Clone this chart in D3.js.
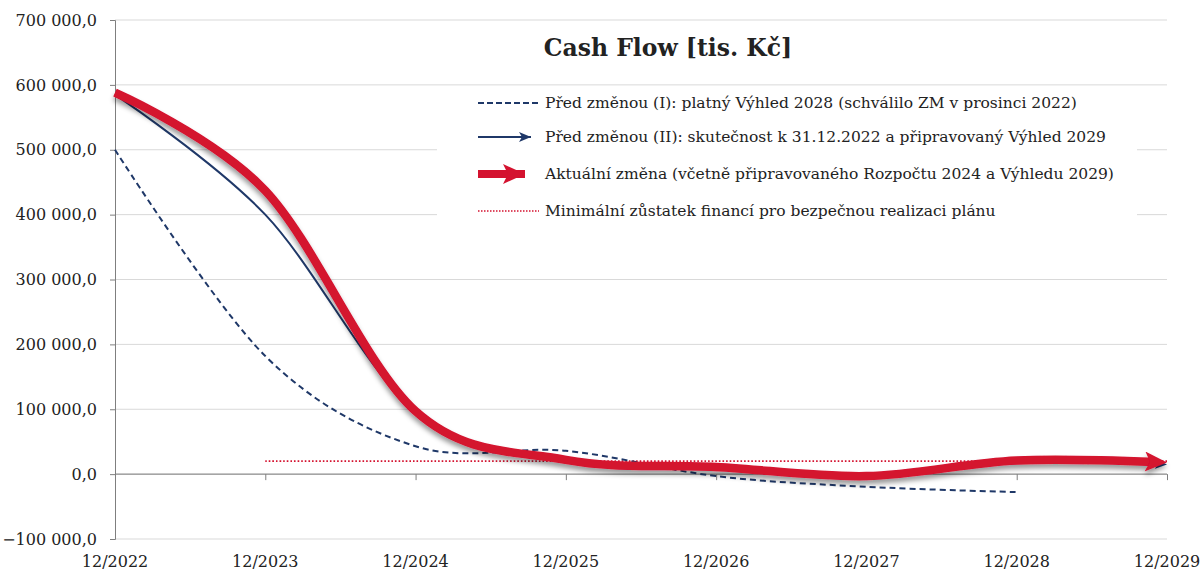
<!DOCTYPE html>
<meta charset="utf-8">
<script src="https://d3js.org/d3.v7.min.js"></script>
<style>
  body { margin: 0; background: #fff; }
  text { font-family: "DejaVu Serif", Georgia, serif; fill: #222; }
</style>
<div id="chart"></div>
<script>

// data (tis. Kč)
var periods = ["12/2022", "12/2023", "12/2024", "12/2025", "12/2026", "12/2027", "12/2028", "12/2029"];
var beforeI  = [500000, 182000, 43000, 36000, -3000, -19500, -27700];
var beforeII = [585000, 400000, 97000, 20000, 10000, -4000, 19000, 15000];
var current  = [588000, 437000, 97000, 22000, 11000, -3000, 21000, 18000];
var minBalance = [null, 20000, 20000, 20000, 20000, 20000, 20000, 20000];
var yTicks = [-100000, 0, 100000, 200000, 300000, 400000, 500000, 600000, 700000];
var legendLabels = [
  "Před změnou (I): platný Výhled 2028 (schválilo ZM v prosinci 2022)",
  "Před změnou (II): skutečnost k 31.12.2022 a připravovaný Výhled 2029",
  "Aktuální změna (včetně připravovaného Rozpočtu 2024 a Výhledu 2029)",
  "Minimální zůstatek financí pro bezpečnou realizaci plánu"
];

var W = 1204, H = 572;
var margin = {top: 20, right: 37, bottom: 33, left: 115};
var width = W - margin.left - margin.right,
    height = H - margin.top - margin.bottom;

var navy = "#1f3868", red = "#d4122f";

var svg = d3.select("#chart").append("svg")
    .attr("width", W).attr("height", H);

var defs = svg.append("defs");
var shadow = defs.append("filter").attr("id", "shadow")
    .attr("x", "-5%").attr("y", "-10%").attr("width", "110%").attr("height", "130%");
shadow.append("feDropShadow").attr("dx", 0).attr("dy", 4)
    .attr("stdDeviation", 2.4).attr("flood-color", "#000").attr("flood-opacity", 0.4);

defs.append("marker").attr("id", "arrowRed")
    .attr("markerUnits", "userSpaceOnUse")
    .attr("viewBox", "0 0 22 20").attr("refX", 22).attr("refY", 10)
    .attr("markerWidth", 22).attr("markerHeight", 20).attr("orient", "auto")
  .append("path").attr("d", "M0,0 L22,10 L0,20 L5,10 Z").attr("fill", red);

defs.append("marker").attr("id", "arrowNavy")
    .attr("markerUnits", "userSpaceOnUse")
    .attr("viewBox", "0 0 12 10").attr("refX", 12).attr("refY", 5)
    .attr("markerWidth", 12).attr("markerHeight", 10).attr("orient", "auto")
  .append("path").attr("d", "M0,0 L12,5 L0,10 L3,5 Z").attr("fill", navy);

var g = svg.append("g").attr("transform", "translate(" + margin.left + "," + margin.top + ")");

var x = d3.scalePoint().domain(periods).range([0, width]);
var y = d3.scaleLinear().domain([-100000, 700000]).range([height, 0]);

var fmt = function(v) {
  return d3.format(",.1f")(v).replace(/,/g, " ").replace(".", ",");
};

// gridlines
g.append("g").selectAll("line").data(yTicks).enter().append("line")
    .attr("x1", 0).attr("x2", width)
    .attr("y1", function(d) { return y(d); }).attr("y2", function(d) { return y(d); })
    .attr("stroke", "#d9d9d9").attr("stroke-width", 1);

// y axis
var yAxis = g.append("g")
    .call(d3.axisLeft(y).tickValues(yTicks).tickFormat(fmt).tickSize(5).tickPadding(13));
yAxis.select(".domain").attr("stroke", "#7f7f7f");
yAxis.selectAll(".tick line").attr("stroke", "#7f7f7f");
yAxis.selectAll("text").style("font-size", "16px").attr("fill", "#222");

// x axis line at zero with ticks
var xAxis = g.append("g").attr("transform", "translate(0," + y(0) + ")")
    .call(d3.axisBottom(x).tickSize(6).tickFormat(""));
xAxis.select(".domain").attr("stroke", "#7f7f7f").attr("d", "M0,0H" + width);
xAxis.selectAll(".tick line").attr("stroke", "#7f7f7f");

// x labels at bottom
g.append("g").selectAll("text").data(periods).enter().append("text")
    .attr("x", function(d) { return x(d); })
    .attr("y", height + 28)
    .attr("text-anchor", "middle")
    .style("font-size", "16px")
    .text(function(d) { return d; });

// legend background hides gridlines
g.append("rect").attr("x", 322).attr("y", 68).attr("width", 700).attr("height", 140).attr("fill", "#fff");

var line = d3.line()
    .defined(function(d) { return d != null; })
    .x(function(d, i) { return x(periods[i]); })
    .y(function(d) { return y(d); })
    .curve(d3.curveCardinal.tension(0));

// minimum balance
g.append("path").attr("d", line(minBalance))
    .attr("fill", "none").attr("stroke", red).attr("stroke-width", 1.6)
    .attr("stroke-dasharray", "1.6 2");

// before change I (dashed)
g.append("path").attr("d", line(beforeI))
    .attr("fill", "none").attr("stroke", navy).attr("stroke-width", 2)
    .attr("stroke-dasharray", "6 4");

// before change II
var p2 = g.append("path").attr("d", line(beforeII))
    .attr("fill", "none").attr("stroke", navy).attr("stroke-width", 2)
    .attr("marker-end", "url(#arrowNavy)");
var L2 = p2.node().getTotalLength();
p2.attr("stroke-dasharray", (L2 - 6) + " 100");

// current change (thick red with shadow)
var cg = g.append("g").attr("filter", "url(#shadow)");
var p3 = cg.append("path").attr("d", line(current))
    .attr("fill", "none").attr("stroke", red).attr("stroke-width", 8.5)
    .attr("marker-end", "url(#arrowRed)");
var L3 = p3.node().getTotalLength();
p3.attr("stroke-dasharray", (L3 - 12) + " 100");

// title
g.append("text").attr("x", 553).attr("y", 36)
    .attr("text-anchor", "middle")
    .style("font-size", "23.5px").style("font-weight", "bold").attr("fill", "#111")
    .text("Cash Flow [tis. Kč]");

// legend
var legY = [83, 117, 154, 191];
var leg = g.append("g");
legendLabels.forEach(function(lbl, i) {
  var ly = legY[i];
  var s = leg.append("line").attr("x1", 363).attr("x2", 424).attr("y1", ly).attr("y2", ly).attr("fill", "none");
  if (i === 0) s.attr("stroke", navy).attr("stroke-width", 2).attr("stroke-dasharray", "6 3");
  if (i === 1) s.attr("stroke", navy).attr("stroke-width", 2).attr("x2", 416).attr("marker-end", "url(#arrowNavy)");
  if (i === 2) s.attr("stroke", red).attr("stroke-width", 8).attr("x2", 410).attr("marker-end", "url(#arrowRed)");
  if (i === 3) s.attr("stroke", red).attr("stroke-width", 1.5).attr("stroke-dasharray", "1.5 1.5");
  leg.append("text").attr("x", 430).attr("y", ly + 5)
      .style("font-size", "15.5px")
      .text(lbl);
});

</script>
